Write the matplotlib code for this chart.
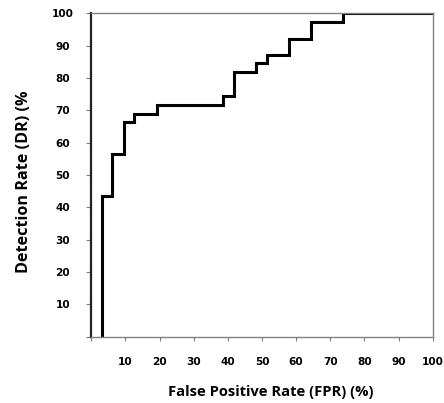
import matplotlib
matplotlib.use("Agg")
import matplotlib.pyplot as plt

############################################################
# ROC data
############################################################

fpr = [3.0, 3.0, 6.2, 9.7, 12.6, 19.2, 38.5, 41.7, 48.2, 51.4, 57.9, 64.4, 73.8, 100.0]
dr = [0.0, 43.5, 56.4, 66.5, 69.0, 71.7, 74.3, 82.0, 84.5, 87.1, 92.2, 97.4, 100.0, 100.0]

ticks = [0, 10, 20, 30, 40, 50, 60, 70, 80, 90, 100]
tick_labels = ["", "10", "20", "30", "40", "50", "60", "70", "80", "90", "100"]

x_label = "False Positive Rate (FPR) (%)"
y_label = "Detection Rate (DR) (%"


def main():

    plt.rcParams["font.family"] = ["Open Sans", "DejaVu Sans"]
    plt.rcParams["font.weight"] = "bold"

    fig = plt.figure(figsize=(4.44, 4.03), dpi=100)

    ax = fig.add_axes([91.3 / 444, 66.3 / 403, 341.4 / 444, 323.4 / 403])

    ############################################################
    # Curve
    ############################################################

    ax.plot(
        fpr,
        dr,
        drawstyle="steps-post",
        color="black",
        linewidth=2.2,
        solid_joinstyle="miter",
    )

    ax.set_xlim(0, 100)
    ax.set_ylim(0, 100)

    ############################################################
    # Axes styling
    ############################################################

    for side in ["top", "right", "bottom"]:
        ax.spines[side].set_color("#808080")
        ax.spines[side].set_linewidth(1.0)

    ax.spines["left"].set_color("#222222")
    ax.spines["left"].set_linewidth(1.6)

    ax.set_xticks(ticks)
    ax.set_xticklabels(tick_labels, fontsize=7.6, fontweight="bold",
                       family="DejaVu Sans")
    ax.set_yticks(ticks)
    ax.set_yticklabels(tick_labels, fontsize=7.6, fontweight="bold",
                       family="DejaVu Sans", ha="center")

    ax.tick_params(axis="x", direction="out", length=3, width=0.8,
                   color="#808080", pad=11.8)
    ax.tick_params(axis="y", direction="out", length=3.5, width=0.8,
                   color="#808080", pad=17)

    ############################################################
    # Axis titles
    ############################################################

    fig.text(271 / 444, 1 - 391.7 / 403, x_label, ha="center", va="center",
             fontsize=10.6, fontweight="bold")

    fig.text(24 / 444, 1 - 181.5 / 403, y_label, ha="center", va="center",
             rotation=90, fontsize=11.6, fontweight="bold")

    fig.savefig("out.png", dpi=100)
    plt.close(fig)


if __name__ == "__main__":
    main()
